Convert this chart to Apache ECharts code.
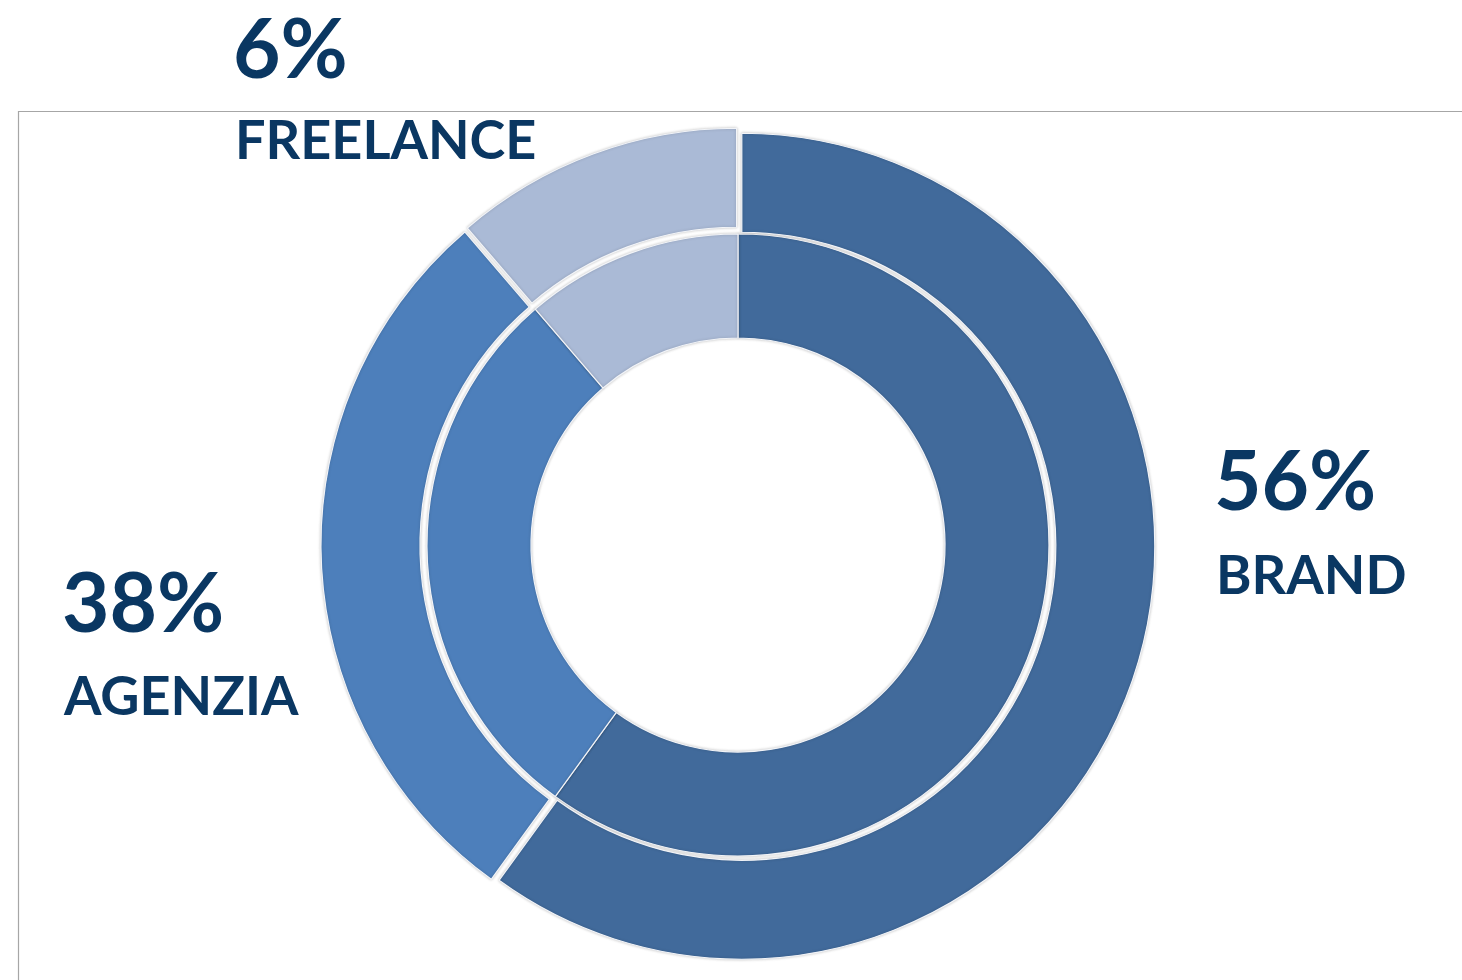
<!DOCTYPE html>
<html>
<head>
<meta charset="utf-8">
<script src="https://cdn.jsdelivr.net/npm/echarts@6/dist/echarts.min.js"></script>
<style>
  html, body { margin: 0; padding: 0; background: #ffffff; }
  #chart { width: 1462px; height: 980px; }
</style>
</head>
<body>
<div id="chart"></div>
<script>
// Categories (clockwise from 12 o'clock)
const categories = ['BRAND', 'AGENZIA', 'FREELANCE'];
const innerValues = [60.0, 28.7, 11.3];
const outerValues = [60.0, 28.7, 11.3];
// Printed labels
const labelPercents = ['56%', '38%', '6%'];

const colors = ['#416A9B', '#4D7FBB', '#AABAD6'];
const textColor = '#0A3762';
const FONT = 'Lato, "Open Sans", sans-serif';

const chart = echarts.init(document.getElementById('chart'), null, { renderer: 'canvas' });

function ringData(values, exploded) {
  return categories.map((c, i) => ({
    name: c,
    value: values[i],
    selected: exploded,
    itemStyle: { color: colors[i] }
  }));
}

// label anchor positions (left x, top of percent text, top of name text)
const labelPos = {
  BRAND:     { x: 1214, pt: 443, nt: 550 },
  AGENZIA:   { x: 62,   pt: 565, nt: 671 },
  FREELANCE: { x: 233,  pt: 11,  nt: 115 }
};

const graphics = [
  {
    type: 'polyline',
    shape: { points: [[18.5, 980], [18.5, 111.5], [1462, 111.5]] },
    style: { stroke: '#A6A6A6', lineWidth: 1.2, fill: null },
    z: 0
  }
];
categories.forEach((c, i) => {
  const p = labelPos[c];
  graphics.push({
    type: 'text', left: p.x, top: p.pt, z: 10,
    style: { text: labelPercents[i], fill: textColor, font: 'bold 82px ' + FONT }
  });
  graphics.push({
    type: 'text', left: p.x + 2, top: p.nt, z: 10,
    style: { text: c, fill: textColor, font: 'bold 54px ' + FONT }
  });
});

const option = {
  backgroundColor: '#ffffff',
  animation: false,
  graphic: graphics,
  series: [
    {
      name: 'inner',
      type: 'pie',
      center: [738, 545],
      radius: [207, 311],
      startAngle: 90,
      clockwise: true,
      silent: true,
      label: { show: false },
      labelLine: { show: false },
      itemStyle: {
        borderColor: '#F2F4F8',
        borderWidth: 1.2,
        shadowBlur: 3,
        shadowColor: 'rgba(0,0,0,0.22)'
      },
      data: ringData(innerValues, false)
    },
    {
      name: 'outer',
      type: 'pie',
      center: [738, 545],
      radius: [314, 413],
      startAngle: 90,
      clockwise: true,
      selectedMode: 'multiple',
      selectedOffset: 4,
      silent: true,
      label: { show: false },
      labelLine: { show: false },
      itemStyle: {
        borderColor: '#F2F4F8',
        borderWidth: 1.2,
        shadowBlur: 3,
        shadowColor: 'rgba(0,0,0,0.22)'
      },
      data: ringData(outerValues, true)
    }
  ]
};
chart.setOption(option);
</script>
</body>
</html>
